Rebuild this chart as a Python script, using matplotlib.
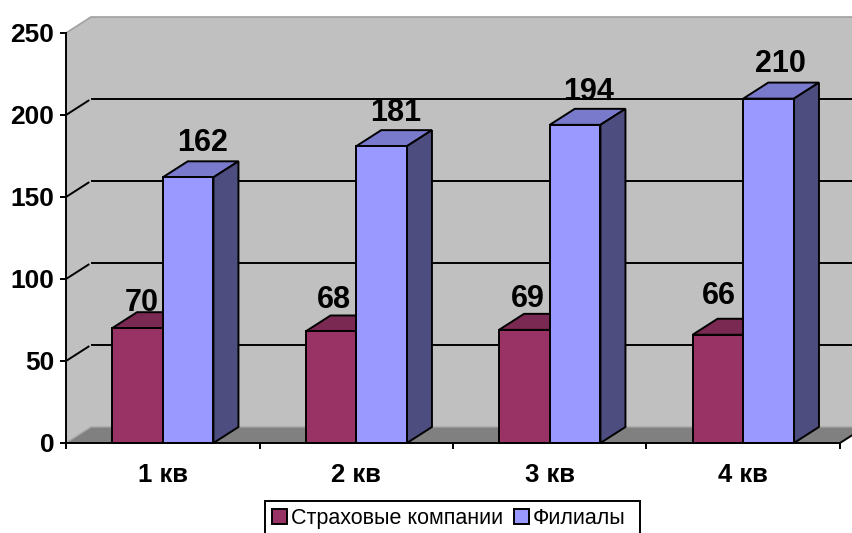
import matplotlib
matplotlib.use('Agg')
import matplotlib.pyplot as plt
from matplotlib.patches import Patch, Rectangle

plt.rcParams['font.family'] = ['Liberation Sans', 'DejaVu Sans']

categories = ['1 кв', '2 кв', '3 кв', '4 кв']
insurers = [70, 68, 69, 66]
branches = [162, 181, 194, 210]
insurers_name = 'Страховые компании'
branches_name = 'Филиалы'
y_ticks = [0, 50, 100, 150, 200, 250]

# label nudges in px, they are not centred the same way in the original
insurers_shift = [(4, 25), (3, 31), (3, 31), (1, 39)]
branches_shift = [(14, 34), (14, 33), (13, 33), (12, 35)]

DEPTH_X = 25 / 193.5
DEPTH_Y = 16 / 1.64
BAR_W = 0.262
BAR_GAP = 0.238
LW = 1.4

fig = plt.figure(figsize=(8.53, 5.33), dpi=100)
ax = fig.add_axes([66 / 853, 1 - 443 / 533, (840 - 66) / 853, (443 - 33) / 533])
ax.set_xlim(0, 4)
ax.set_ylim(0, 250)
ax.patch.set_visible(False)

# walls and floor
n = len(categories)
ax.fill([0, DEPTH_X, DEPTH_X, 0], [0, DEPTH_Y, 250 + DEPTH_Y, 250], color='#c0c0c0', lw=0, clip_on=False, zorder=1)
ax.fill([DEPTH_X, n + DEPTH_X, n + DEPTH_X, DEPTH_X], [DEPTH_Y, DEPTH_Y, 250 + DEPTH_Y, 250 + DEPTH_Y],
        color='#c0c0c0', lw=0, clip_on=False, zorder=1)
ax.fill([0, DEPTH_X, n + DEPTH_X, n], [0, DEPTH_Y, DEPTH_Y, 0], color='#808080', lw=0, clip_on=False, zorder=1)
ax.plot([0, DEPTH_X, n + DEPTH_X], [250, 250 + DEPTH_Y, 250 + DEPTH_Y], color='#a0a0a0', lw=1.2, clip_on=False, zorder=2)
ax.plot([0, DEPTH_X, n + DEPTH_X], [0, DEPTH_Y, DEPTH_Y], color='#a6a6a6', lw=1.0, clip_on=False, zorder=2)
ax.plot([n, n + DEPTH_X], [0, DEPTH_Y], color='black', lw=LW, clip_on=False, zorder=2)

# grid, there is a small gap where the side wall meets the back wall
for v in y_ticks[1:-1]:
    ax.plot([0, DEPTH_X * 0.9], [v, v + DEPTH_Y * 0.9], color='black', lw=LW, clip_on=False, zorder=2)
    ax.plot([DEPTH_X * 1.05, n + DEPTH_X], [v + DEPTH_Y, v + DEPTH_Y], color='black', lw=LW, clip_on=False, zorder=2)


def draw_bar(left, value, face, top, side, z):
    ax.fill([left, left + DEPTH_X, left + BAR_W + DEPTH_X, left + BAR_W],
            [value, value + DEPTH_Y, value + DEPTH_Y, value],
            facecolor=top, edgecolor='black', lw=LW, clip_on=False, zorder=z)
    ax.fill([left + BAR_W, left + BAR_W + DEPTH_X, left + BAR_W + DEPTH_X, left + BAR_W],
            [0, DEPTH_Y, value + DEPTH_Y, value],
            facecolor=side, edgecolor='black', lw=LW, clip_on=False, zorder=z)
    ax.bar(left, value, BAR_W, align='edge', color=face, edgecolor='black', lw=LW, clip_on=False, zorder=z + 0.1)


def draw_label(left, value, shift):
    ax.annotate(str(value), xy=(left + BAR_W / 2, value), xytext=(shift[0] * 0.72, shift[1] * 0.72),
                textcoords='offset points', ha='center', va='center', fontsize=22, fontweight='bold',
                zorder=10, annotation_clip=False)


for i in range(n):
    left = i + BAR_GAP
    draw_bar(left, insurers[i], '#993366', '#7a2952', '#5c1f3d', 3 + i)
    draw_bar(left + BAR_W, branches[i], '#9999ff', '#7a7acc', '#4d4d80', 3.5 + i)
    draw_label(left, insurers[i], insurers_shift[i])
    draw_label(left + BAR_W, branches[i], branches_shift[i])

# axes
ax.spines['top'].set_visible(False)
ax.spines['right'].set_visible(False)
for s in ['left', 'bottom']:
    ax.spines[s].set_linewidth(LW)
    ax.spines[s].set_zorder(9)

ax.set_yticks(y_ticks)
ax.set_yticklabels([str(v) for v in y_ticks], fontsize=19, fontweight='bold')
ax.tick_params(axis='y', length=4.5, width=LW, pad=4)
ax.set_xticks(range(n + 1))
ax.set_xticklabels([])
ax.tick_params(axis='x', which='major', length=4.5, width=LW)
ax.set_xticks([i + 0.5 for i in range(n)], minor=True)
ax.set_xticklabels(categories, minor=True, fontsize=18.5, fontweight='bold')
ax.tick_params(axis='x', which='minor', length=0, pad=14.5)

# legend frame runs off the bottom of the picture
fig.add_artist(Rectangle((265 / 853, 1 - 543 / 533), 375 / 853, 42 / 533, transform=fig.transFigure,
                         facecolor='white', edgecolor='black', lw=LW))
handles = [Patch(facecolor='#993366', edgecolor='black', lw=LW),
           Patch(facecolor='#9999ff', edgecolor='black', lw=LW)]
fig.legend(handles, [insurers_name, branches_name], loc='upper left', ncol=2,
           bbox_to_anchor=(265 / 853, 1 - 501 / 533), borderaxespad=0, fontsize=15.5, frameon=False,
           borderpad=0.33, handlelength=0.68, handleheight=0.68, handletextpad=0.2, columnspacing=0.5)

fig.savefig('out.png', dpi=100)
